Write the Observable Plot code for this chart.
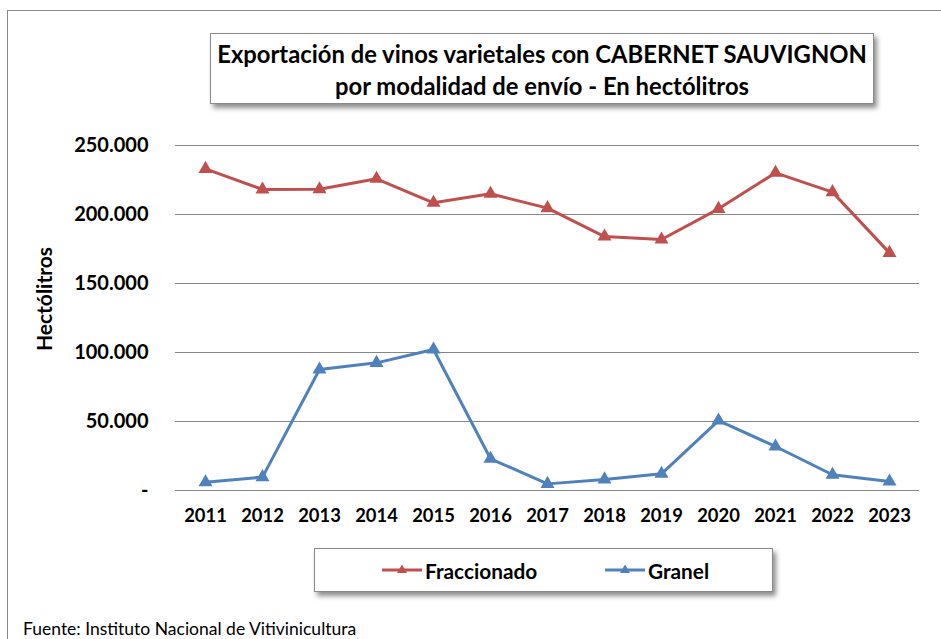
<!DOCTYPE html>
<html>
<head>
<meta charset="utf-8">
<script src="https://cdn.jsdelivr.net/npm/d3@7"></script>
<script src="https://cdn.jsdelivr.net/npm/@observablehq/plot@0.6"></script>
<style>
html, body { margin: 0; padding: 0; background: #fff; overflow: hidden; }
#wrap { position: relative; width: 941px; height: 639px; overflow: hidden; font-family: Lato, "Open Sans", sans-serif; color: #000; }
#frame { position: absolute; left: 7px; top: 10px; width: 1000px; height: 1000px; border: 1.5px solid #8a8a8a; }
#chart { position: absolute; left: 0; top: 0; }
#title { position: absolute; left: 210px; top: 33px; width: 664px; height: 71px; box-sizing: border-box; border: 1px solid #8a8a8a; background: #fff;
  box-shadow: 3px 4px 5px rgba(0,0,0,0.45); text-align: center; font-weight: bold; font-size: 23.8px; line-height: 32px;
  display: flex; flex-direction: column; justify-content: center; padding-top: 3px; }
#legend { position: absolute; left: 314px; top: 548px; width: 459px; height: 44px; box-sizing: border-box; border: 1px solid #8a8a8a; background: #fff;
  box-shadow: 3px 4px 5px rgba(0,0,0,0.45); }
.item { position: absolute; top: 0; height: 42px; display: flex; align-items: center; font-weight: bold; font-size: 20.8px; }
.item svg { margin-right: 3px; }
#source { position: absolute; left: 23px; top: 618px; font-size: 17.5px; white-space: nowrap; }
</style>
</head>
<body>
<div id="wrap">
  <div id="frame"></div>
  <div id="chart"></div>
  <div id="title"><div>Exportación de vinos varietales con CABERNET SAUVIGNON</div><div>por modalidad de envío - En hectólitros</div></div>
  <div id="legend"></div>
  <div id="source">Fuente: Instituto Nacional de Vitivinicultura</div>
</div>
<script>
// ---- data ----
const years = ["2011","2012","2013","2014","2015","2016","2017","2018","2019","2020","2021","2022","2023"];
const seriesNames = ["Fraccionado", "Granel"];
const seriesColors = ["#C0504D", "#4F81BD"];
const fraccionado = [233000, 218100, 218300, 225900, 208500, 215000, 204600, 184000, 181900, 204100, 230200, 216200, 172200];
const granel = [6000, 9700, 87700, 92500, 102200, 23000, 4800, 8000, 12100, 50700, 31900, 11400, 6500];
const yTicks = [0, 50000, 100000, 150000, 200000, 250000];
const yLabel = "Hectólitros";

// ---- table ----
const rows = [];
years.forEach((yr, i) => rows.push({year: yr, value: fraccionado[i], series: seriesNames[0]}));
years.forEach((yr, i) => rows.push({year: yr, value: granel[i], series: seriesNames[1]}));

const loc = d3.formatLocale({decimal: ",", thousands: ".", grouping: [3], currency: ["$", ""]});
const fmt = loc.format(",");
const tickFmt = d => d === 0 ? "-" : fmt(d);

const chart = Plot.plot({
  width: 941,
  height: 540,
  marginLeft: 175,
  marginRight: 22,
  marginTop: 145,
  marginBottom: 50,
  style: {fontFamily: "Lato, 'Open Sans', sans-serif", fontSize: "17px", fontWeight: "bold", color: "#000", background: "transparent", overflow: "visible"},
  x: {type: "point", domain: years, padding: 0.5, label: null},
  y: {domain: [0, 250000], label: null},
  color: {domain: seriesNames, range: seriesColors},
  marks: [
    Plot.ruleY(yTicks, {stroke: "#878787", strokeWidth: 1.2}),
    Plot.axisY(yTicks, {tickSize: 0, tickPadding: 27, tickFormat: tickFmt, fontSize: 20, fontWeight: "bold", label: null}),
    Plot.axisX({tickSize: 0, tickPadding: 18, fontSize: 18.4, fontWeight: "bold", label: null}),
    Plot.line(rows, {x: "year", y: "value", z: "series", stroke: "series", strokeWidth: 3}),
    Plot.dot(rows, {x: "year", y: "value", fill: "series", symbol: "triangle", r: 5.2, stroke: null}),
    Plot.text([yLabel], {frameAnchor: "left", textAnchor: "middle", dx: -130, dy: -19, rotate: -90, fontSize: 21, fontWeight: "bold", fill: "#000"})
  ]
});
document.getElementById("chart").appendChild(chart);

// ---- legend ----
const legend = document.getElementById("legend");
const lefts = [67, 290];
seriesNames.forEach((name, i) => {
  const it = document.createElement("div");
  it.className = "item";
  it.style.left = lefts[i] + "px";
  const c = seriesColors[i];
  it.innerHTML = `<svg width="40" height="14" viewBox="0 0 40 14"><line x1="0" y1="7" x2="40" y2="7" stroke="${c}" stroke-width="3"/><path d="M20,1.5 L25,10 L15,10 Z" fill="${c}"/></svg><span>${name}</span>`;
  legend.appendChild(it);
});
</script>
</body>
</html>
